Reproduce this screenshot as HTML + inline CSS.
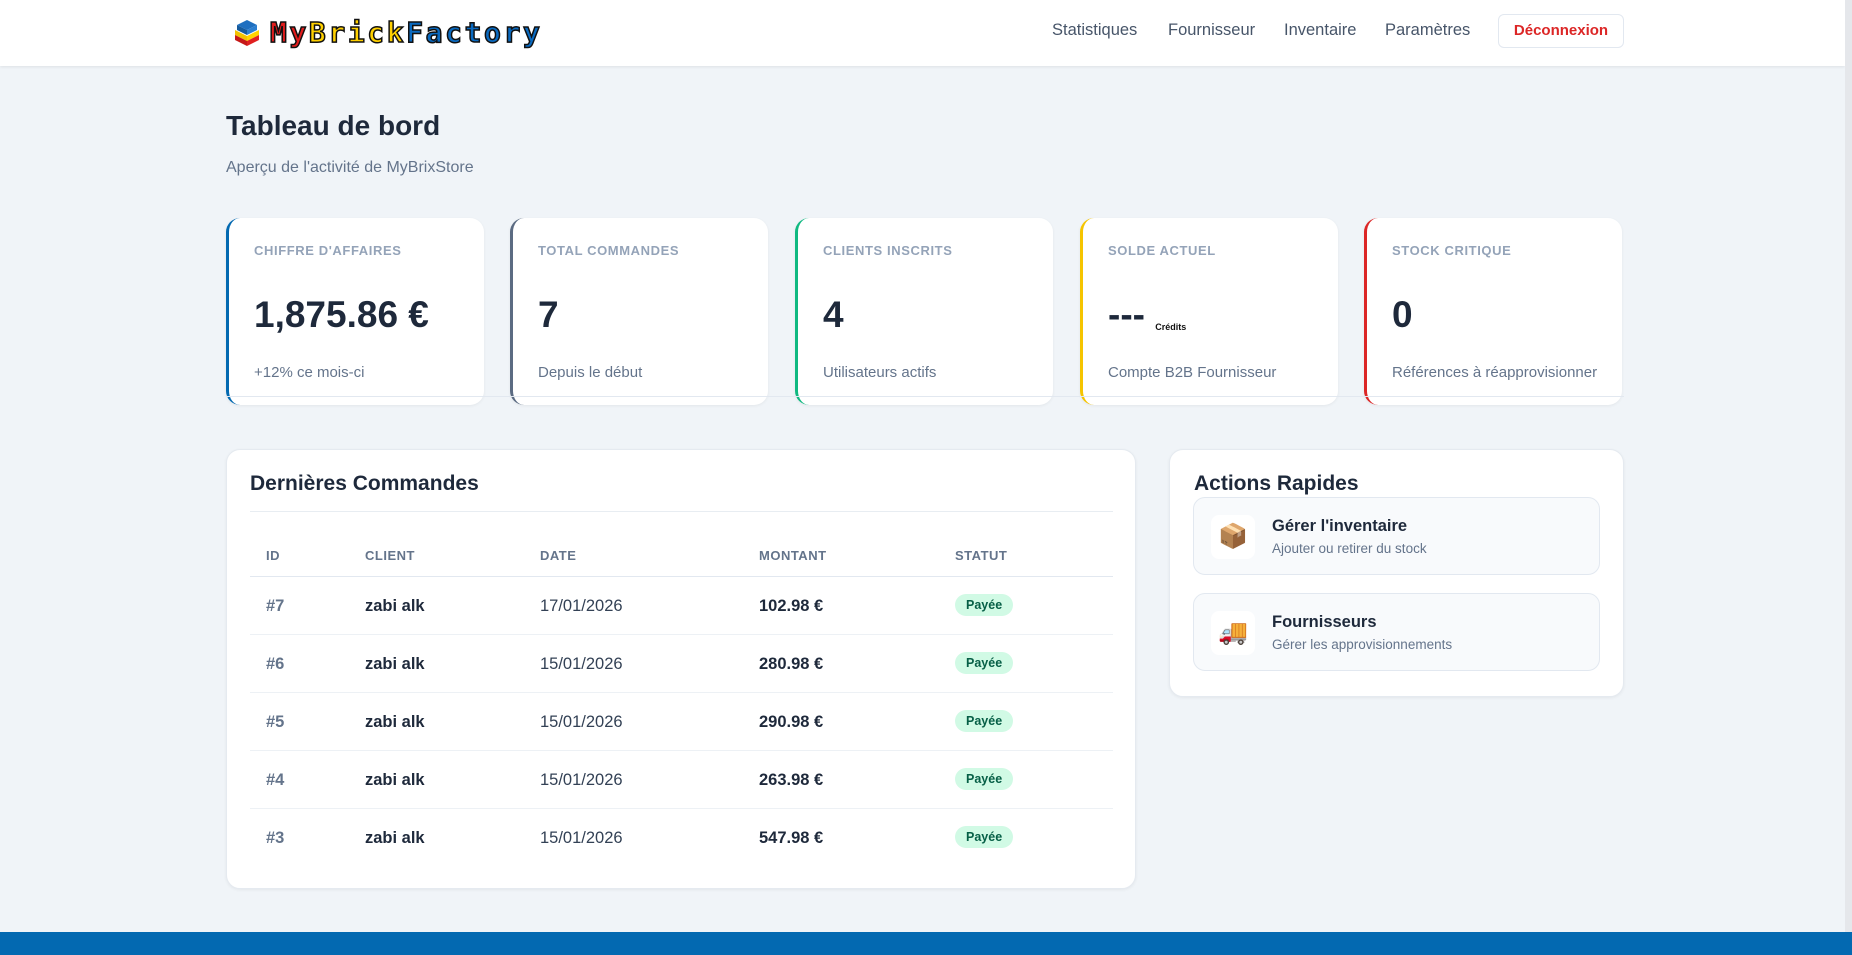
<!DOCTYPE html>
<html><head><meta charset="utf-8"><style>
*{box-sizing:border-box;margin:0;padding:0}
body{width:1852px;height:955px;overflow:hidden;background:#f0f4f8;font-family:"Liberation Sans",sans-serif;color:#1e293b;position:relative}
.hdr{position:absolute;left:0;top:0;width:1845px;height:66px;background:#fff;box-shadow:0 1px 3px rgba(0,0,0,.08)}
.logo{position:absolute;left:234px;top:16px;display:flex;align-items:center}
.logo .t{font-family:"DejaVu Sans Mono",monospace;font-weight:bold;font-size:28px;letter-spacing:2.6px;-webkit-text-stroke:1.5px #111;margin-left:10px}
.nav{position:absolute;top:21px;font-size:16.5px;color:#475569}
.btn{position:absolute;left:1498px;top:14px;width:126px;height:34px;border:1px solid #e2e8f0;border-radius:6px;color:#dc2626;font-weight:bold;font-size:15px;text-align:center;line-height:32px;background:#fff}
.sb{position:absolute;left:1845px;top:0;width:7px;height:932px;background:#e5e7eb}
h1{position:absolute;left:226px;top:110px;font-size:28px;font-weight:bold;color:#1e293b}
.sub{position:absolute;left:226px;top:159px;font-size:16px;color:#64748b}
.card{position:absolute;top:218px;width:258px;height:187px;background:#fff;border-radius:14px;border-left:3px solid;box-shadow:0 1px 3px rgba(0,0,0,.06)}
.card .l{position:absolute;left:25px;top:25px;font-size:13px;font-weight:bold;color:#94a3b8;letter-spacing:.6px}
.card .v{position:absolute;left:25px;font-size:37px;font-weight:bold;color:#1e293b}
.card .f{position:absolute;left:25px;top:146px;font-size:15px;color:#64748b}
.panel{position:absolute;background:#fff;border-radius:14px;box-shadow:0 1px 3px rgba(0,0,0,.06);border:1px solid #e5eaf0}
.pt{position:absolute;font-size:21px;font-weight:bold;color:#1e293b}
.th{position:absolute;top:548px;font-size:13px;font-weight:bold;color:#64748b;letter-spacing:.5px}
.row{position:absolute;left:250px;width:863px;height:58px;border-bottom:1px solid #edf1f5;font-size:16.5px}
.row span{position:absolute;top:20px}
.badge{background:#d1fae5;color:#065f46;font-size:12.5px;font-weight:bold;padding:4px 11px;border-radius:12px;top:17px!important}
.item{position:absolute;left:1193px;width:407px;height:78px;background:#f8fafc;border:1px solid #e2e8f0;border-radius:12px}
.ic{position:absolute;left:17px;top:17px;width:44px;height:44px;background:#fff;border-radius:8px;font-size:24px;text-align:center;line-height:44px}
.it{position:absolute;left:78px;top:19px;font-size:16.5px;font-weight:bold}
.is{position:absolute;left:78px;top:43px;font-size:13.5px;color:#64748b}
.foot{position:absolute;left:0;top:932px;width:1852px;height:23px;background:#0369b1}
</style></head><body>
<div class="hdr">
<div class="logo"><svg width="26" height="28" viewBox="0 0 26 28"><polygon points="13,1 23,6 13,11 3,6" fill="#1e6fc0"/><polygon points="3,6 13,11 13,16 3,11" fill="#155a9c"/><polygon points="23,6 13,11 13,16 23,11" fill="#2b7fd0"/><polygon points="1,11 13,17 13,22 1,16" fill="#f2c200"/><polygon points="25,11 13,17 13,22 25,16" fill="#ffd400"/><polygon points="1,16 13,22 13,27 1,21" fill="#c61818"/><polygon points="25,16 13,22 13,27 25,21" fill="#e02020"/></svg><span class="t"><span style="color:#e11d1d">My</span><span style="color:#ffd000">Brick</span><span style="color:#0a6ac0">Factory</span></span></div>
<span class="nav" style="left:1052px">Statistiques</span>
<span class="nav" style="left:1168px">Fournisseur</span>
<span class="nav" style="left:1284px">Inventaire</span>
<span class="nav" style="left:1385px">Paramètres</span>
<div class="btn">Déconnexion</div>
</div>
<div class="sb"></div>
<h1>Tableau de bord</h1>
<div class="sub">Aperçu de l'activité de MyBrixStore</div>

<div class="card" style="left:226px;border-color:#0369b1"><div class="l">CHIFFRE D'AFFAIRES</div><div class="v" style="top:76px">1,875.86 €</div><div class="f">+12% ce mois-ci</div></div>
<div class="card" style="left:510px;border-color:#5b6b82"><div class="l">TOTAL COMMANDES</div><div class="v" style="top:76px">7</div><div class="f">Depuis le début</div></div>
<div class="card" style="left:795px;border-color:#10b981"><div class="l">CLIENTS INSCRITS</div><div class="v" style="top:76px">4</div><div class="f">Utilisateurs actifs</div></div>
<div class="card" style="left:1080px;border-color:#f5c400"><div class="l">SOLDE ACTUEL</div><div class="v" style="top:76px">--- <span style="font-size:9px;color:#111;vertical-align:-3px">Crédits</span></div><div class="f">Compte B2B Fournisseur</div></div>
<div class="card" style="left:1364px;border-color:#dc2626"><div class="l">STOCK CRITIQUE</div><div class="v" style="top:76px">0</div><div class="f">Références à réapprovisionner</div></div>
<div style="position:absolute;left:226px;top:396px;width:1398px;height:1px;background:#e2e8f0"></div>

<div class="panel" style="left:226px;top:449px;width:910px;height:440px"></div>
<div class="pt" style="left:250px;top:472px">Dernières Commandes</div>
<div style="position:absolute;left:250px;top:511px;width:863px;height:1px;background:#e8edf2"></div>
<span class="th" style="left:266px">ID</span><span class="th" style="left:365px">CLIENT</span><span class="th" style="left:540px">DATE</span><span class="th" style="left:759px">MONTANT</span><span class="th" style="left:955px">STATUT</span>
<div style="position:absolute;left:250px;top:576px;width:863px;height:1px;background:#e2e8f0"></div>
<div class="row" style="top:577px"><span style="left:16px;color:#64748b;font-weight:bold">#7</span><span style="left:115px;font-weight:bold">zabi alk</span><span style="left:290px;color:#334155">17/01/2026</span><span style="left:509px;font-weight:bold">102.98 €</span><span class="badge" style="left:705px">Payée</span></div>
<div class="row" style="top:635px"><span style="left:16px;color:#64748b;font-weight:bold">#6</span><span style="left:115px;font-weight:bold">zabi alk</span><span style="left:290px;color:#334155">15/01/2026</span><span style="left:509px;font-weight:bold">280.98 €</span><span class="badge" style="left:705px">Payée</span></div>
<div class="row" style="top:693px"><span style="left:16px;color:#64748b;font-weight:bold">#5</span><span style="left:115px;font-weight:bold">zabi alk</span><span style="left:290px;color:#334155">15/01/2026</span><span style="left:509px;font-weight:bold">290.98 €</span><span class="badge" style="left:705px">Payée</span></div>
<div class="row" style="top:751px"><span style="left:16px;color:#64748b;font-weight:bold">#4</span><span style="left:115px;font-weight:bold">zabi alk</span><span style="left:290px;color:#334155">15/01/2026</span><span style="left:509px;font-weight:bold">263.98 €</span><span class="badge" style="left:705px">Payée</span></div>
<div class="row" style="top:809px;border:none"><span style="left:16px;color:#64748b;font-weight:bold">#3</span><span style="left:115px;font-weight:bold">zabi alk</span><span style="left:290px;color:#334155">15/01/2026</span><span style="left:509px;font-weight:bold">547.98 €</span><span class="badge" style="left:705px">Payée</span></div>

<div class="panel" style="left:1169px;top:449px;width:455px;height:248px"></div>
<div class="pt" style="left:1194px;top:472px">Actions Rapides</div>
<div class="item" style="top:497px"><div class="ic">📦</div><div class="it">Gérer l'inventaire</div><div class="is">Ajouter ou retirer du stock</div></div>
<div class="item" style="top:593px"><div class="ic">🚚</div><div class="it">Fournisseurs</div><div class="is">Gérer les approvisionnements</div></div>
<div class="foot"></div>
</body></html>
